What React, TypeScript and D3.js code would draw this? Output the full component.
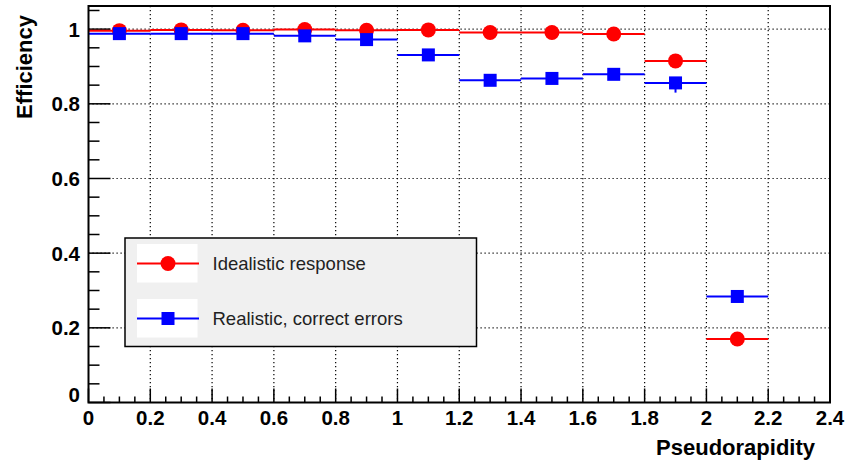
import React from "react";
import * as d3 from "d3";

// bin centres (width 0.2)
const binCenters = [0.1, 0.3, 0.5, 0.7, 0.9, 1.1, 1.3, 1.5, 1.7, 1.9, 2.1];
const binWidth = 0.2;

const idealValues = [0.996, 0.998, 0.997, 0.999, 0.997, 0.998, 0.991, 0.991, 0.987, 0.915, 0.17];
const idealErrLow = [0.004, 0.004, 0.004, 0.004, 0.004, 0.004, 0.005, 0.005, 0.006, 0.012, 0.01];
const idealErrHigh = [0.002, 0.002, 0.002, 0.001, 0.002, 0.002, 0.004, 0.004, 0.005, 0.01, 0.01];

const realValues = [0.988, 0.988, 0.988, 0.982, 0.972, 0.931, 0.863, 0.868, 0.879, 0.856, 0.284];
const realErrLow = [0.005, 0.005, 0.005, 0.006, 0.007, 0.01, 0.012, 0.012, 0.012, 0.026, 0.012];
const realErrHigh = [0.004, 0.004, 0.004, 0.005, 0.006, 0.009, 0.011, 0.011, 0.011, 0.012, 0.012];

const xTicks = [0, 0.2, 0.4, 0.6, 0.8, 1, 1.2, 1.4, 1.6, 1.8, 2, 2.2, 2.4];
const yTicks = [0, 0.2, 0.4, 0.6, 0.8, 1];

const W = 846;
const H = 461;
const left = 88.5, right = 830, top = 6, bottom = 402.5;
const font = "'Liberation Sans', Arial, Helvetica, sans-serif";

export default function App() {
  const x = d3.scaleLinear().domain([0, 2.4]).range([left, right]);
  const y = d3.scaleLinear().domain([0, 1.062]).range([bottom, top]);

  const xMinor = d3.range(0, 2.4001, 0.05);
  const yMinor = d3.range(0, 1.0601, 0.05);

  const series = [
    { name: "Idealistic response", color: "#ff0000", vals: idealValues, lo: idealErrLow, hi: idealErrHigh, marker: "circle" },
    { name: "Realistic, correct errors", color: "#0000ff", vals: realValues, lo: realErrLow, hi: realErrHigh, marker: "square" },
  ];

  const marker = (kind: string, cx: number, cy: number, color: string, key?: any) =>
    kind === "circle" ? (
      <circle key={key} cx={cx} cy={cy} r={7.5} fill={color} />
    ) : (
      <rect key={key} x={cx - 6.5} y={cy - 6.5} width={13} height={13} fill={color} />
    );

  return (
    <svg width={W} height={H} style={{ position: "absolute", left: 0, top: 0, background: "#fff" }}>
      <rect x={0} y={0} width={W} height={H} fill="#fff" />
      {/* grid */}
      <g stroke="#000" strokeWidth={1.2} strokeDasharray="1.2 2.8">
        {xTicks.filter((t) => t > 0 && t < 2.4).map((t) => (
          <line key={"gx" + t} x1={x(t)} x2={x(t)} y1={top} y2={bottom} />
        ))}
        {yTicks.filter((t) => t > 0).map((t) => (
          <line key={"gy" + t} x1={left} x2={right} y1={y(t)} y2={y(t)} />
        ))}
      </g>
      {/* ticks */}
      <g stroke="#000" strokeWidth={1.5}>
        {xMinor.map((t, i) => {
          const major = i % 4 === 0;
          return <line key={"tx" + i} x1={x(t)} x2={x(t)} y1={bottom} y2={bottom - (major ? 14 : 6)} />;
        })}
        {yMinor.map((t, i) => {
          const major = i % 4 === 0;
          return <line key={"ty" + i} x1={left} x2={left + (major ? 22 : 11)} y1={y(t)} y2={y(t)} />;
        })}
      </g>
      {/* data */}
      {series.map((s) => (
        <g key={s.name}>
          {binCenters.map((c, i) => (
            <g key={i} stroke={s.color} strokeWidth={2}>
              <line x1={x(c - binWidth / 2)} x2={x(c + binWidth / 2)} y1={y(s.vals[i])} y2={y(s.vals[i])} />
              <line x1={x(c)} x2={x(c)} y1={y(s.vals[i] - s.lo[i])} y2={y(s.vals[i] + s.hi[i])} />
            </g>
          ))}
          {binCenters.map((c, i) => marker(s.marker, x(c), y(s.vals[i]), s.color, i))}
        </g>
      ))}
      {/* frame */}
      <rect x={left} y={top} width={right - left} height={bottom - top} fill="none" stroke="#000" strokeWidth={2} />
      {/* tick labels */}
      <g fontFamily={font} fontWeight="bold" fontSize={20.5} fill="#000">
        {xTicks.map((t) => (
          <text key={"lx" + t} x={x(t)} y={424.5} textAnchor="middle">
            {d3.format("~g")(t)}
          </text>
        ))}
        {yTicks.map((t) => (
          <text key={"ly" + t} x={80} y={y(t) + (t === 0 ? -0.5 : 7.5)} textAnchor="end">
            {d3.format("~g")(t)}
          </text>
        ))}
      </g>
      {/* axis titles */}
      <text x={815} y={455} textAnchor="end" fontFamily={font} fontWeight="bold" fontSize={22}>
        Pseudorapidity
      </text>
      <text transform="translate(32,15) rotate(-90)" textAnchor="end" fontFamily={font} fontWeight="bold" fontSize={22}>
        Efficiency
      </text>
      {/* legend */}
      <rect x={125} y={238} width={351.5} height={108.5} fill="#f0f0f0" stroke="#000" strokeWidth={1.5} />
      {series.map((s, i) => {
        const cy = 263.5 + i * 55;
        return (
          <g key={"lg" + i}>
            <rect x={137} y={cy - 19.5} width={60.5} height={38.5} fill="#fff" />
            <line x1={137} x2={199} y1={cy} y2={cy} stroke={s.color} strokeWidth={2} />
            {marker(s.marker, 168, cy, s.color)}
            <text x={212.5} y={cy + 6.5} fontFamily={font} fontSize={18.5} fill="#222">
              {s.name}
            </text>
          </g>
        );
      })}
    </svg>
  );
}
